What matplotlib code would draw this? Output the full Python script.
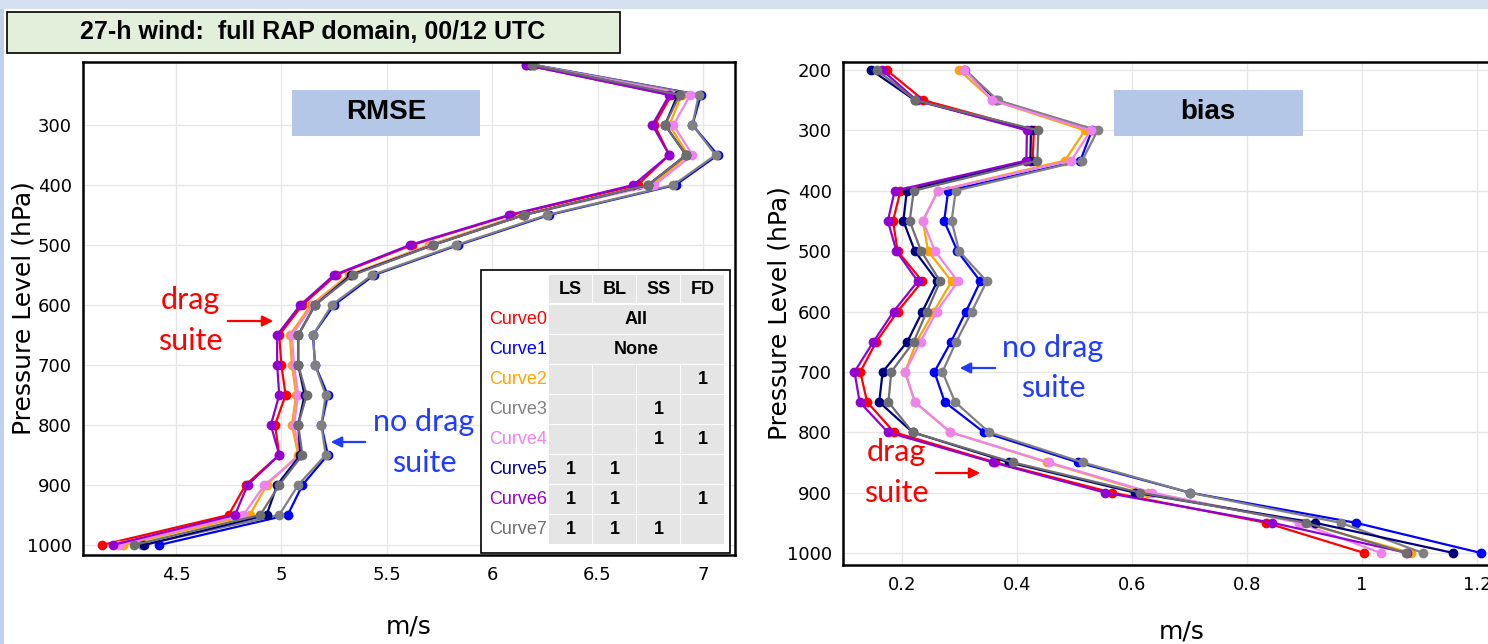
import numpy as np
import matplotlib
matplotlib.use("Agg")
import matplotlib.pyplot as plt
from matplotlib.patches import Rectangle, FancyArrowPatch

# pressure levels (hPa)
levels = [200, 250, 300, 350, 400, 450, 500, 550, 600, 650, 700, 750, 800, 850, 900, 950, 1000]

curve_names = ['Curve0', 'Curve1', 'Curve2', 'Curve3', 'Curve4', 'Curve5', 'Curve6', 'Curve7']
curve_colors = ['#ff0000', '#0000ff', '#ffa500', '#808080', '#ee82ee', '#000080', '#9400d3', '#6e6e6e']

# RMSE (m/s) per curve
rmse0 = [6.16, 6.85, 6.77, 6.84, 6.69, 6.09, 5.62, 5.26, 5.10, 4.99, 5.00, 5.02, 4.97, 4.99, 4.83, 4.75, 4.15]
rmse1 = [6.20, 6.99, 6.95, 7.07, 6.87, 6.27, 5.84, 5.44, 5.25, 5.15, 5.16, 5.22, 5.19, 5.22, 5.10, 5.03, 4.42]
rmse2 = [6.18, 6.90, 6.84, 6.93, 6.76, 6.14, 5.70, 5.32, 5.14, 5.04, 5.05, 5.07, 5.05, 5.08, 4.93, 4.85, 4.25]
rmse3 = [6.20, 6.98, 6.95, 7.06, 6.86, 6.26, 5.83, 5.43, 5.24, 5.15, 5.16, 5.21, 5.19, 5.21, 5.08, 4.99, 4.34]
rmse4 = [6.19, 6.94, 6.86, 6.95, 6.77, 6.15, 5.71, 5.33, 5.15, 5.05, 5.06, 5.08, 5.06, 5.09, 4.92, 4.82, 4.23]
rmse5 = [6.18, 6.88, 6.82, 6.92, 6.74, 6.15, 5.72, 5.33, 5.16, 5.08, 5.08, 5.11, 5.08, 5.09, 4.98, 4.93, 4.35]
rmse6 = [6.16, 6.84, 6.76, 6.84, 6.67, 6.08, 5.61, 5.25, 5.09, 4.98, 4.98, 4.99, 4.95, 4.99, 4.84, 4.78, 4.20]
rmse7 = [6.19, 6.89, 6.82, 6.92, 6.74, 6.15, 5.72, 5.34, 5.16, 5.08, 5.08, 5.12, 5.08, 5.10, 4.99, 4.90, 4.30]

# bias (m/s) per curve
bias0 = [0.173, 0.237, 0.429, 0.427, 0.197, 0.184, 0.192, 0.235, 0.192, 0.155, 0.127, 0.139, 0.186, 0.362, 0.565, 0.833, 1.004]
bias1 = [0.308, 0.364, 0.530, 0.510, 0.280, 0.273, 0.296, 0.336, 0.311, 0.285, 0.256, 0.274, 0.342, 0.506, 0.700, 0.989, 1.207]
bias2 = [0.299, 0.357, 0.518, 0.483, 0.262, 0.236, 0.245, 0.286, 0.255, 0.225, 0.205, 0.222, 0.284, 0.452, 0.628, 0.898, 1.085]
bias3 = [0.310, 0.366, 0.540, 0.513, 0.293, 0.286, 0.299, 0.347, 0.321, 0.294, 0.270, 0.292, 0.351, 0.514, 0.700, 0.963, 1.106]
bias4 = [0.308, 0.357, 0.528, 0.494, 0.262, 0.236, 0.257, 0.297, 0.260, 0.232, 0.205, 0.222, 0.284, 0.455, 0.634, 0.891, 1.033]
bias5 = [0.146, 0.222, 0.424, 0.423, 0.208, 0.202, 0.222, 0.261, 0.235, 0.209, 0.166, 0.160, 0.218, 0.386, 0.605, 0.918, 1.159]
bias6 = [0.165, 0.225, 0.417, 0.416, 0.187, 0.175, 0.190, 0.227, 0.185, 0.150, 0.117, 0.126, 0.175, 0.358, 0.553, 0.844, 1.079]
bias7 = [0.156, 0.223, 0.437, 0.435, 0.220, 0.213, 0.233, 0.266, 0.243, 0.220, 0.181, 0.176, 0.218, 0.393, 0.614, 0.903, 1.076]

rmse_all = [rmse0, rmse1, rmse2, rmse3, rmse4, rmse5, rmse6, rmse7]
bias_all = [bias0, bias1, bias2, bias3, bias4, bias5, bias6, bias7]

# legend table: which physics option is on (LS, BL, SS, FD)
table_cols = ['LS', 'BL', 'SS', 'FD']
table_rows = ['All', 'None', [0, 0, 0, 1], [0, 0, 1, 0], [0, 0, 1, 1], [1, 1, 0, 0], [1, 1, 0, 1], [1, 1, 1, 0]]

rmse_ticks = [4.5, 5, 5.5, 6, 6.5, 7]
rmse_ticklabels = ['4.5', '5', '5.5', '6', '6.5', '7']
bias_ticks = [0.2, 0.4, 0.6, 0.8, 1.0, 1.2]
bias_ticklabels = ['0.2', '0.4', '0.6', '0.8', '1', '1.2']

W, H = 1488, 644
BOLDFONT = ['Liberation Sans', 'DejaVu Sans']
CAL = ['Lato', 'DejaVu Sans']
ANN_BLUE = '#1f3cff'


def fx(x):
    return x / W


def fy(y):
    return 1 - y / H


def px_rect(fig, x0, y0, x1, y1, **kw):
    """Rectangle in pixel coordinates (origin top-left)."""
    r = Rectangle((fx(x0), fy(y1)), (x1 - x0) / W, (y1 - y0) / H, transform=fig.transFigure, **kw)
    fig.add_artist(r)
    return r


def px_arrow(fig, x0, y0, x1, y1, color):
    a = FancyArrowPatch((fx(x0), fy(y0)), (fx(x1), fy(y1)), transform=fig.transFigure,
                        arrowstyle='-|>', mutation_scale=16, color=color, lw=1.6)
    fig.add_artist(a)


def style_axes(ax, ticks, ticklabels, yticks, ylab_x, xlabpad):
    ax.set_xticks(ticks)
    ax.set_xticklabels(ticklabels)
    ax.set_yticks(yticks)
    ax.set_yticklabels([str(v) for v in yticks])
    ax.grid(True, color='#e6e6e6', lw=1.0)
    ax.set_axisbelow(True)
    ax.tick_params(length=0, labelsize=13, pad=8)
    for s in ax.spines.values():
        s.set_linewidth(1.8)
        s.set_color('black')
    ax.set_ylabel('Pressure Level (hPa)', fontsize=18)
    ax.yaxis.set_label_coords(ylab_x, 0.5)
    ax.set_xlabel('m/s', fontsize=18, labelpad=xlabpad)


fig = plt.figure(figsize=(14.88, 6.44), dpi=100)

# slide background bits
px_rect(fig, 0, 0, W, 9, facecolor='#d5e0f1', edgecolor='none', zorder=0)
px_rect(fig, 0, 9, 4, H, facecolor='#bfd0ec', edgecolor='none', zorder=0)

# RMSE panel
ax1 = fig.add_axes([fx(83), fy(555), (735 - 83) / W, (555 - 62) / H])
for vals, c in zip(rmse_all, curve_colors):
    ax1.plot(vals, levels, color=c, lw=1.6, marker='o', ms=6)
ax1.set_xlim(4.059, 7.152)
ax1.set_ylim(1016.7, 195)
style_axes(ax1, rmse_ticks, rmse_ticklabels, [300, 400, 500, 600, 700, 800, 900, 1000],
           (36 - 83) / 652, 22)

# bias panel (runs past the right edge of the slide)
ax2 = fig.add_axes([fx(843), fy(565), (1520 - 843) / W, (565 - 62) / H])
for vals, c in zip(bias_all, curve_colors):
    ax2.plot(vals, levels, color=c, lw=1.6, marker='o', ms=6)
ax2.set_xlim(0.097, 1.2 + 43 / 575)
ax2.set_ylim(1019.9, 186.7)
style_axes(ax2, bias_ticks, bias_ticklabels, [200, 300, 400, 500, 600, 700, 800, 900, 1000],
           (792 - 843) / 677, 18)

# title box
px_rect(fig, 7, 12, 620, 53, facecolor='#e2efda', edgecolor='black', lw=1.2)
fig.text(fx(313), fy(32), '27-h wind:  full RAP domain, 00/12 UTC', ha='center', va='center',
         fontsize=18, fontweight='bold', family=BOLDFONT)

# panel labels
px_rect(fig, 292, 90, 480, 136, facecolor='#b4c7e7', edgecolor='none')
fig.text(fx(386), fy(112), 'RMSE', ha='center', va='center', fontsize=20, fontweight='bold', family=BOLDFONT)
px_rect(fig, 1114, 90, 1303, 136, facecolor='#b4c7e7', edgecolor='none')
fig.text(fx(1208), fy(112), 'bias', ha='center', va='center', fontsize=20, fontweight='bold', family=BOLDFONT)

# annotations
fig.text(fx(190), fy(300), 'drag', color='red', fontsize=22, ha='center', va='center', family=CAL)
fig.text(fx(190), fy(341), 'suite', color='red', fontsize=22, ha='center', va='center', family=CAL)
px_arrow(fig, 225, 321, 276, 321, 'red')
fig.text(fx(424), fy(422), 'no drag', color=ANN_BLUE, fontsize=22, ha='center', va='center', family=CAL)
fig.text(fx(424), fy(463), 'suite', color=ANN_BLUE, fontsize=22, ha='center', va='center', family=CAL)
px_arrow(fig, 368, 442, 328, 442, ANN_BLUE)
fig.text(fx(1053), fy(348), 'no drag', color=ANN_BLUE, fontsize=22, ha='center', va='center', family=CAL)
fig.text(fx(1053), fy(388), 'suite', color=ANN_BLUE, fontsize=22, ha='center', va='center', family=CAL)
px_arrow(fig, 998, 368, 957, 368, ANN_BLUE)
fig.text(fx(896), fy(452), 'drag', color='red', fontsize=22, ha='center', va='center', family=CAL)
fig.text(fx(896), fy(493), 'suite', color='red', fontsize=22, ha='center', va='center', family=CAL)
px_arrow(fig, 933, 473, 983, 473, 'red')

# legend table
px_rect(fig, 481, 270, 730, 553, facecolor='white', edgecolor='black', lw=1.2, zorder=5)
col_x = [549, 593, 637, 681]
col_w = 43
cell_fc = '#e5e5e5'
for cx, name in zip(col_x, table_cols):
    px_rect(fig, cx, 275, cx + col_w, 303, facecolor=cell_fc, edgecolor='none', zorder=6)
    fig.text(fx(cx + col_w / 2), fy(290), name, ha='center', va='center', fontsize=13,
             fontweight='bold', family=BOLDFONT, zorder=7)
row_h = 30
for i, (name, c, row) in enumerate(zip(curve_names, curve_colors, table_rows)):
    y0 = 305 + i * row_h
    fig.text(fx(547), fy(y0 + 14), name, ha='right', va='center', fontsize=13, color=c,
             family=BOLDFONT, zorder=7)
    if isinstance(row, str):
        px_rect(fig, col_x[0], y0, col_x[-1] + col_w, y0 + row_h - 1.5, facecolor=cell_fc,
                edgecolor='none', zorder=6)
        fig.text(fx((col_x[0] + col_x[-1] + col_w) / 2), fy(y0 + 14), row, ha='center', va='center',
                 fontsize=13, fontweight='bold', family=BOLDFONT, zorder=7)
    else:
        for cx, on in zip(col_x, row):
            px_rect(fig, cx, y0, cx + col_w, y0 + row_h - 1.5, facecolor=cell_fc, edgecolor='none', zorder=6)
            if on:
                fig.text(fx(cx + col_w / 2), fy(y0 + 15), '1', ha='center', va='center', fontsize=13,
                         fontweight='bold', family=BOLDFONT, zorder=7)

fig.savefig('out.png', dpi=100)
